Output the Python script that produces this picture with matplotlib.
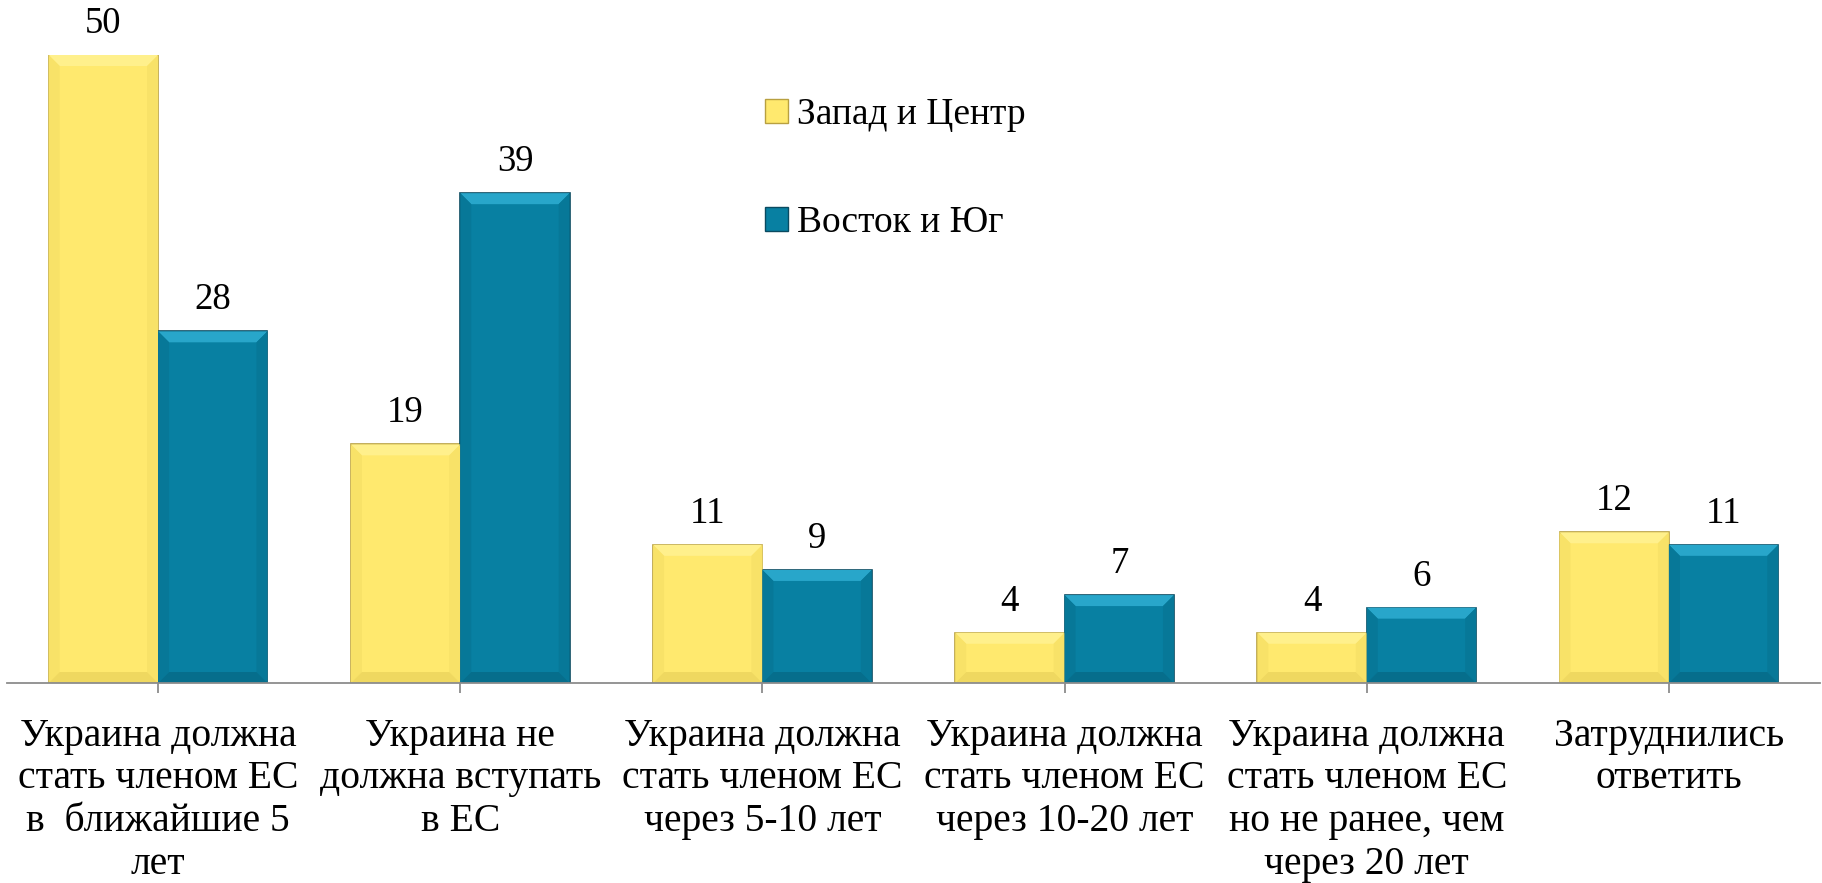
import matplotlib
matplotlib.use("Agg")
import matplotlib.pyplot as plt
from matplotlib.patches import Patch, Polygon
import numpy as np

categories = [
    "Украина должна\nстать членом ЕС\nв  ближайшие 5\nлет",
    "Украина не\nдолжна вступать\nв ЕС",
    "Украина должна\nстать членом ЕС\nчерез 5-10 лет",
    "Украина должна\nстать членом ЕС\nчерез 10-20 лет",
    "Украина должна\nстать членом ЕС\nно не ранее, чем\nчерез 20 лет",
    "Затруднились\nответить",
]
west_center = [50, 19, 11, 4, 4, 12]
east_south = [28, 39, 9, 7, 6, 11]
series_names = ["Запад и Центр", "Восток и Юг"]

YELLOW = "#FFE96E"
YELLOW_EDGE = "#B8A040"
YELLOW_TOP = "#FFF08C"
YELLOW_SIDE = "#F8E268"
YELLOW_BOT = "#EFD860"
BLUE = "#0880A2"
BLUE_EDGE = "#0A4A60"
BLUE_TOP = "#28A6CA"
BLUE_SIDE = "#077898"
BLUE_BOT = "#066E8C"

plt.rcParams["font.family"] = ["Liberation Serif", "DejaVu Serif"]

W, H = 1822, 883
fig = plt.figure(figsize=(W / 100, H / 100), dpi=100)
ax = fig.add_axes([7 / W, (H - 683) / H, (1820 - 7) / W, (683 - 55) / H])

x = np.arange(len(categories))
bw = 0.362
b1 = ax.bar(x - bw / 2, west_center, bw, color=YELLOW, edgecolor=YELLOW_EDGE, linewidth=1.2, zorder=2)
b2 = ax.bar(x + bw / 2, east_south, bw, color=BLUE, edgecolor=BLUE_EDGE, linewidth=1.2, zorder=2)

ax.set_xlim(-0.5, len(categories) - 0.5)
ax.set_ylim(0, 50)

# bevel look, built from each bar's own geometry
bx = 11 / (1813 / 6)
by = 11 / (628 / 50)
for bars, top, side, bot in ((b1, YELLOW_TOP, YELLOW_SIDE, YELLOW_BOT), (b2, BLUE_TOP, BLUE_SIDE, BLUE_BOT)):
    for r in bars:
        x0, w, h = r.get_x(), r.get_width(), r.get_height()
        x1 = x0 + w
        ey = min(by, h / 2)
        faces = [
            ([(x0, h), (x1, h), (x1 - bx, h - ey), (x0 + bx, h - ey)], top),
            ([(x0, 0), (x0, h), (x0 + bx, h - ey), (x0 + bx, ey)], side),
            ([(x1, 0), (x1, h), (x1 - bx, h - ey), (x1 - bx, ey)], side),
            ([(x0, 0), (x1, 0), (x1 - bx, ey), (x0 + bx, ey)], bot),
        ]
        for pts, c in faces:
            ax.add_patch(Polygon(pts, closed=True, facecolor=c, edgecolor="none", zorder=2.5))
        ax.annotate(f"{h:g}", (x0 + w / 2, h), xytext=(0, 10), textcoords="offset points",
                    ha="center", va="bottom", fontsize=26.5, annotation_clip=False)

for s in ("top", "right", "left"):
    ax.spines[s].set_visible(False)
ax.spines["bottom"].set_color("#8C8C8C")
ax.spines["bottom"].set_linewidth(1.3)
ax.set_yticks([])
ax.set_xticks(x)
ax.set_xticklabels(categories, fontsize=28.5, linespacing=1.2)
ax.tick_params(axis="x", direction="out", length=7, width=1.3, color="#8C8C8C", pad=18)

handles = [Patch(facecolor=YELLOW, edgecolor=YELLOW_EDGE),
           Patch(facecolor=BLUE, edgecolor=BLUE_EDGE)]
fig.legend(handles, series_names, loc="upper left", bbox_to_anchor=(765 / W, 1 - 98 / H),
           frameon=False, fontsize=27, handlelength=0.6, handleheight=0.6,
           handletextpad=0.25, labelspacing=1.95, borderpad=0, borderaxespad=0)

fig.savefig("out.png", dpi=100)
